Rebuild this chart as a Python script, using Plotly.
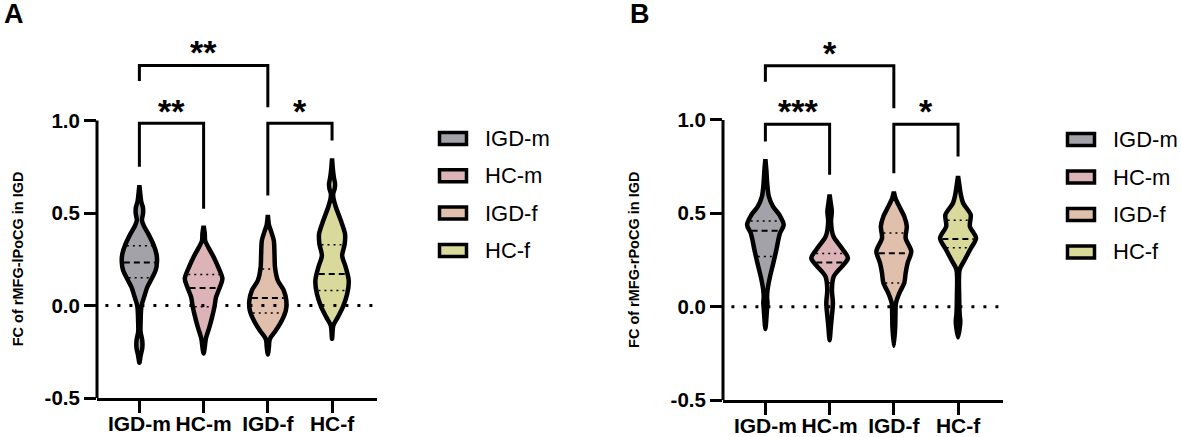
import numpy as np
import plotly.graph_objects as go

groups = ["IGD-m", "HC-m", "IGD-f", "HC-f"]
colors = ["#a2a2a8", "#dcb4b7", "#e0c0ac", "#dad99c"]

# violin outlines: y levels and half widths (category units)
a_levels = [
    [-0.31, -0.27, -0.23, -0.19, -0.14, -0.08, -0.03, 0.0, 0.045, 0.10, 0.135, 0.19, 0.24, 0.28,
     0.33, 0.39, 0.43, 0.46, 0.50, 0.53, 0.56, 0.59, 0.65],
    [-0.26, -0.22, -0.19, -0.17, -0.117, -0.063, -0.009, 0.045, 0.10, 0.145, 0.207, 0.261, 0.315,
     0.35, 0.39, 0.43],
    [-0.265, -0.22, -0.19, -0.171, -0.135, -0.081, -0.027, 0.027, 0.081, 0.135, 0.207, 0.279,
     0.351, 0.405, 0.432, 0.49],
    [-0.18, -0.108, -0.063, -0.009, 0.063, 0.135, 0.207, 0.27, 0.333, 0.387, 0.459, 0.531, 0.58,
     0.604, 0.63, 0.658, 0.69, 0.73, 0.795],
]
a_widths = [
    [0, 0.02, 0.045, 0.045, 0.018, 0.02, 0.025, 0.034, 0.073, 0.124, 0.176, 0.253, 0.275, 0.265,
     0.218, 0.135, 0.07, 0.04, 0.058, 0.055, 0.03, 0.018, 0],
    [0, 0.02, 0.03, 0.042, 0.09, 0.132, 0.168, 0.194, 0.254, 0.293, 0.228, 0.158, 0.073, 0.025,
     0.018, 0],
    [0, 0.018, 0.025, 0.047, 0.124, 0.218, 0.28, 0.288, 0.249, 0.156, 0.112, 0.104, 0.093, 0.047,
     0.02, 0],
    [0, 0.02, 0.09, 0.168, 0.236, 0.26, 0.213, 0.158, 0.197, 0.202, 0.137, 0.06, 0.022, 0.018,
     0.04, 0.047, 0.03, 0.015, 0],
]
a_quartiles = [[0.150, 0.233, 0.323], [-0.007, 0.095, 0.168], [-0.040, 0.041, 0.197], [0.081, 0.170, 0.328]]

b_levels = [
    [-0.12, -0.05, 0.0, 0.02, 0.05, 0.091, 0.162, 0.234, 0.305, 0.358, 0.394, 0.438, 0.492, 0.536,
     0.59, 0.661, 0.733, 0.79],
    [-0.18, -0.105, -0.052, 0.02, 0.091, 0.162, 0.216, 0.26, 0.322, 0.376, 0.456, 0.51, 0.55, 0.60],
    [-0.21, -0.105, -0.052, 0.02, 0.073, 0.127, 0.18, 0.234, 0.296, 0.367, 0.43, 0.483, 0.536,
     0.581, 0.615],
    [-0.165, -0.105, -0.075, -0.04, 0.05, 0.198, 0.251, 0.314, 0.367, 0.43, 0.492, 0.554, 0.599,
     0.652, 0.70],
]
b_widths = [
    [0, 0.018, 0.028, 0.033, 0.026, 0.034, 0.073, 0.124, 0.171, 0.202, 0.228, 0.285, 0.218, 0.12,
     0.054, 0.028, 0.015, 0],
    [0, 0.02, 0.035, 0.052, 0.036, 0.065, 0.194, 0.285, 0.171, 0.06, 0.022, 0.035, 0.02, 0],
    [0, 0.022, 0.025, 0.034, 0.086, 0.163, 0.184, 0.215, 0.272, 0.184, 0.202, 0.163, 0.086, 0.025, 0],
    [0, 0.03, 0.035, 0.025, 0.018, 0.025, 0.104, 0.202, 0.28, 0.184, 0.197, 0.08, 0.044, 0.02, 0],
]
b_quartiles = [[0.269, 0.407, 0.459], [0.127, 0.237, 0.285], [0.127, 0.286, 0.394], [0.316, 0.363, 0.463]]

# brackets: (group i, group j, bar height, left leg end, right leg end, stars, star height)
a_brackets = [(0, 2, 1.297, 1.213, 1.072, "**", 1.395),
              (0, 1, 0.985, 0.750, 0.523, "**", 1.076),
              (2, 3, 0.985, 0.595, 0.892, "*", 1.080)]
b_brackets = [(0, 2, 1.290, 1.205, 1.062, "*", 1.383),
              (0, 1, 0.977, 0.884, 0.706, "***", 1.075),
              (2, 3, 0.977, 0.715, 0.804, "*", 1.075)]

yticks = [-0.5, 0.0, 0.5, 1.0]
ytick_text = ["-0.5", "0.0", "0.5", "1.0"]

W, H = 1181, 437
FONT = "Arial, Liberation Sans, sans-serif"

fig = go.Figure()


def px_x(p):
    return p / W


def px_y(p):
    return (H - p) / H


def add_panel(n, levels, widths, quartiles, brackets, ytitle, letter, x_axis_px, y_bottom_px,
              per_unit, legend_px):
    xa = "x" if n == 1 else "x%d" % n
    ya = "y" if n == 1 else "y%d" % n
    for i, g in enumerate(groups):
        lv = np.array(levels[i])
        wd = np.array(widths[i])
        xs = np.concatenate([i + wd, (i - wd)[::-1]])
        ys = np.concatenate([lv, lv[::-1]])
        fig.add_trace(go.Scatter(x=xs, y=ys, mode="lines", fill="toself", fillcolor=colors[i],
                                 line=dict(color="black", width=4.5, shape="spline", smoothing=0.8),
                                 name=g, showlegend=False, hoverinfo="skip", xaxis=xa, yaxis=ya))
        for k, q in enumerate(quartiles[i]):
            hw = max(np.interp(q, lv, wd) - 0.03, 0.0)
            fig.add_trace(go.Scatter(x=[i - hw, i + hw], y=[q, q], mode="lines",
                                     line=dict(color="black", width=2 if k == 1 else 1.5,
                                               dash="6px,4px" if k == 1 else "2px,4px"),
                                     showlegend=False, hoverinfo="skip", xaxis=xa, yaxis=ya))
    for gi, gj, top, le, re, stars, sy in brackets:
        fig.add_trace(go.Scatter(x=[gi, gi, gj, gj], y=[le, top, top, re], mode="lines",
                                 line=dict(color="black", width=3), showlegend=False,
                                 hoverinfo="skip", xaxis=xa, yaxis=ya))
        fig.add_annotation(x=(gi + gj) / 2, y=sy, xref=xa, yref=ya, text="<b>%s</b>" % stars,
                           showarrow=False, yshift=-5, font=dict(family=FONT, size=34, color="black"))

    # zero reference line and the y axis line (only from -0.5 to 1.0)
    fig.add_shape(type="line", xref=xa + " domain", yref=ya, x0=0.03, x1=1, y0=0, y1=0,
                  line=dict(color="black", width=3, dash="3px,9px"))
    fig.add_shape(type="line", xref=xa + " domain", yref=ya, x0=0, x1=0, y0=-0.5, y1=1.0,
                  line=dict(color="black", width=3))

    top_val = 1.0 + ((y_bottom_px - 1.5 * per_unit) - 20) / per_unit
    axis_kw = dict(showgrid=False, zeroline=False, automargin=False, ticks="outside", ticklen=12,
                   tickwidth=3, tickcolor="black")
    fig.layout["xaxis" if n == 1 else "xaxis%d" % n] = dict(
        domain=[px_x(x_axis_px), px_x(x_axis_px + 280)], range=[-0.66, 3.70],
        tickvals=list(range(len(groups))), ticktext=groups, showline=True, linewidth=3,
        linecolor="black", anchor=ya, ticklabelstandoff=-7,
        tickfont=dict(family=FONT, size=21, color="black", weight="bold"), **axis_kw)
    fig.layout["yaxis" if n == 1 else "yaxis%d" % n] = dict(
        domain=[px_y(y_bottom_px), px_y(20)], range=[-0.5, top_val], tickvals=yticks,
        ticktext=ytick_text, showline=False, anchor=xa,
        tickfont=dict(family=FONT, size=20.5, color="black", weight="bold"), **axis_kw)

    mid_px = y_bottom_px - 0.75 * per_unit
    fig.add_annotation(x=px_x(x_axis_px - 89), y=px_y(mid_px), xref="paper", yref="paper",
                       text="<b>%s</b>" % ytitle, textangle=-90, showarrow=False,
                       font=dict(family=FONT, size=14.5, color="black"))
    fig.add_annotation(x=px_x(x_axis_px - 95), y=px_y(1), xref="paper", yref="paper",
                       text="<b>%s</b>" % letter, showarrow=False, xanchor="left", yanchor="top",
                       yshift=4, font=dict(family=FONT, size=27, color="black"))

    lx, ly, step = legend_px
    for i, g in enumerate(groups):
        cy = ly + step * i
        fig.add_shape(type="rect", xref="paper", yref="paper", x0=px_x(lx + 1.5), x1=px_x(lx + 28.5),
                      y0=px_y(cy - 6), y1=px_y(cy + 6), fillcolor=colors[i],
                      line=dict(color="black", width=3.5))
        fig.add_annotation(x=px_x(lx + 45), y=px_y(cy), xref="paper", yref="paper", text=g,
                           showarrow=False, xanchor="left", yanchor="middle",
                           font=dict(family=FONT, size=22, color="black"))


add_panel(1, a_levels, a_widths, a_quartiles, a_brackets, "FC of rMFG-lPoCG in IGD", "A",
          97, 398, 185.0, (438, 138.5, 37.3))
add_panel(2, b_levels, b_widths, b_quartiles, b_brackets, "FC of rMFG-rPoCG in IGD", "B",
          723, 400, 186.7, (1066, 139.5, 37.5))

fig.update_layout(width=W, height=H, margin=dict(l=0, r=0, t=0, b=0, autoexpand=False),
                  paper_bgcolor="white", plot_bgcolor="white", showlegend=False)

# the page has a default 8px body margin; drop it so the figure fills the window
fig.write_html("out.html", config={"displayModeBar": False},
               post_script="document.body.style.margin='0';")
